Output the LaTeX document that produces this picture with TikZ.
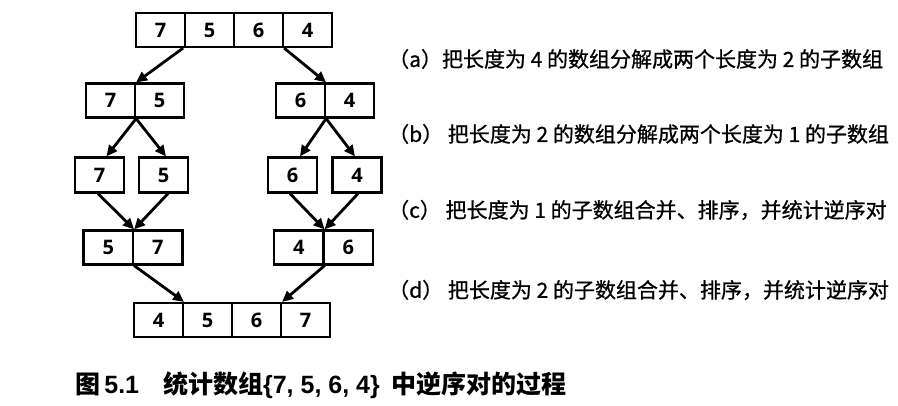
\documentclass[tikz,border=0pt]{standalone}
\usepackage{fontspec}
\usetikzlibrary{arrows.meta,calc}
\newfontfamily\cjk[FakeBold=0.8]{Noto Sans CJK SC}
\newfontfamily\cjkc{Noto Sans CJK SC}
\newfontfamily\numf{Open Sans}
\newfontfamily\capl{Liberation Sans}
\begin{document}
\begin{tikzpicture}[x=1pt,y=-1pt,
  cell/.style={draw, line width=2.2pt, minimum width=49pt, minimum height=34pt, inner sep=0pt,
    font=\numf\bfseries\fontsize{20}{20}\selectfont},
  arr/.style={-{Triangle[length=11pt,width=10pt]}, line width=2.8pt},
  lab/.style={anchor=west, inner sep=0pt, font=\cjk\fontsize{21}{21}\selectfont},
  captext/.style={anchor=west, inner sep=0pt, font=\cjkc\bfseries\fontsize{25}{25}\selectfont}]
\useasboundingbox (0,0) rectangle (898,406);
% level 1
\node[cell] (t1) at (160.5,30) {7};
\node[cell] (t2) at (209.5,30) {5};
\node[cell] (t3) at (258.5,30) {6};
\node[cell] (t4) at (307.5,30) {4};
% level 2
\node[cell] (la1) at (110.5,100.5) {7};
\node[cell] (la2) at (159.5,100.5) {5};
\node[cell] (ra1) at (300.5,100.5) {6};
\node[cell] (ra2) at (349.5,100.5) {4};
% level 3
\node[cell, minimum height=35pt] (lb1) at (99.5,175) {7};
\node[cell, minimum height=35pt] (lb2) at (163.5,175) {5};
\node[cell, minimum height=35pt] (rb1) at (292.5,175) {6};
\node[cell, minimum height=35pt] (rb2) at (357,175) {4};
% level 4
\node[cell, minimum width=49.5pt] (lc1) at (108.25,247.5) {5};
\node[cell, minimum width=49.5pt] (lc2) at (157.75,247.5) {7};
\node[cell, minimum width=49.5pt] (rc1) at (298.75,247.5) {4};
\node[cell, minimum width=49.5pt] (rc2) at (348.25,247.5) {6};
% level 5
\node[cell] (b1) at (158.5,320) {4};
\node[cell] (b2) at (207.5,320) {5};
\node[cell] (b3) at (256.5,320) {6};
\node[cell] (b4) at (305.5,320) {7};
% arrows
\draw[arr] ($(t1.south east)+(-3,0)$) -- (la1.north east);
\draw[arr] (t3.south east) -- (ra1.north east);
\draw[arr] (la1.south east) -- ($(lb1.north)+(7,0)$);
\draw[arr] (la1.south east) -- ($(lb2.north)+(2.5,0)$);
\draw[arr] (ra1.south east) -- ($(rb1.north)+(7.5,0)$);
\draw[arr] (ra1.south east) -- ($(rb2.north)+(-2,0)$);
\draw[arr] ($(lb1.south)+(-1.5,0)$) -- (lc1.north east);
\draw[arr] ($(lb2.south)+(4.5,0)$) -- (lc1.north east);
\draw[arr] ($(rb1.south)+(-2.5,0)$) -- (rc1.north east);
\draw[arr] ($(rb2.south)+(1,0)$) -- (rc1.north east);
\draw[arr] (lc1.south east) -- (b1.north east);
\draw[arr] (rc1.south east) -- (b3.north east);
% labels
\node[lab] (ta) at (388,59) {（a）把长度为 4 的数组分解成两个长度为 2 的子数组};
\node[lab] (tb) at (388,134) {（b）\ 把长度为 2 的数组分解成两个长度为 1 的子数组};
\node[lab] (tc) at (388,210) {（c）\ 把长度为 1 的子数组合并、排序，并统计逆序对};
\node[lab] (td) at (388,290) {（d）\ 把长度为 2 的子数组合并、排序，并统计逆序对};
% caption
\node[captext] (cp) at (75,385) {图\,{\capl\bfseries 5.1}\hspace{24pt}统计数组{\capl\bfseries\{7, 5, 6, 4\}}\hspace{12pt}中逆序对的过程};
\end{tikzpicture}
\end{document}
